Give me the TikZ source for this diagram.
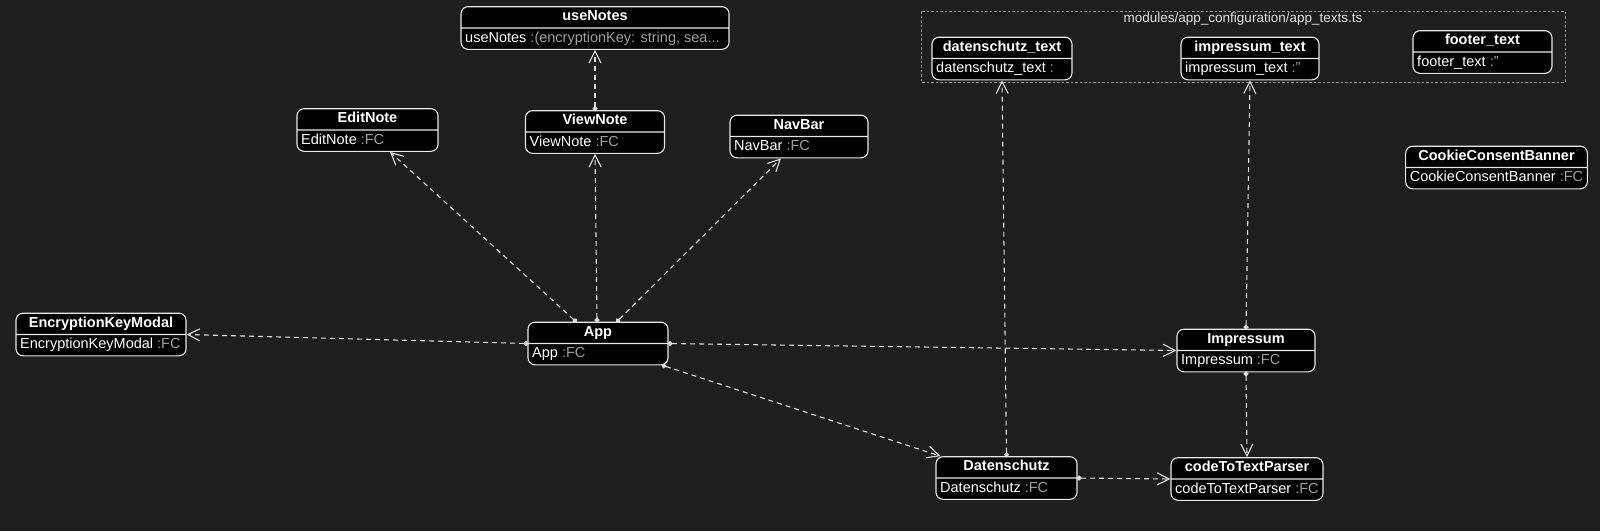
\documentclass[tikz,border=0pt]{standalone}
\usepackage{fontspec}
\setmainfont{Liberation Sans}
\usetikzlibrary{arrows.meta,shapes.multipart,calc}
\definecolor{bgc}{HTML}{1E1E1E}
\definecolor{edgec}{HTML}{DDDDDD}
\definecolor{boxline}{HTML}{E8E8E8}
\definecolor{fcgray}{HTML}{A0A0A0}
\definecolor{grpc}{HTML}{8C8C8C}
\newcommand\hdrtxt[1]{\textbf{#1}\strut}
\newcommand\bdytxt[2]{#1 \textcolor{fcgray}{#2}\strut}
\tikzset{
  cls/.style={rectangle split, rectangle split parts=2,
    rectangle split part align={center,left},
    draw=boxline, fill=black, rounded corners=7pt, line width=1.1pt,
    inner xsep=4.2pt, inner ysep=1.6pt, text=white,
    font=\fontsize{14.5}{17}\selectfont},
  dep/.style={draw=edgec, line width=1.1pt, dash pattern=on 5pt off 4pt,
    {Circle[length=5pt,sep=-1pt]}-{Straight Barb[length=12pt,width=12pt,line width=1.1pt]}},
  grpbox/.style={draw=grpc, line width=0.8pt, dash pattern=on 2.5pt off 2pt},
  grplabel/.style={text=white!88!black, font=\fontsize{13.5}{15}\selectfont}
}
\begin{document}
\begin{tikzpicture}[x=1pt,y=-1pt]
\fill[bgc] (0,0) rectangle (1600,531);
\useasboundingbox (0,0) rectangle (1600,531);

% group
\draw[grpbox] (921,11) rectangle (1565,82);
\node[grplabel] (grplbl) at (1243,19.5) {modules/app\_configuration/app\_texts.ts};

% classes
\node[cls, minimum width=268pt] (usenotes) at (595,28)
  {\hdrtxt{useNotes}\nodepart{two}\bdytxt{useNotes}{:(encryptionKey: string, sea...}};
\node[cls, minimum width=141pt] (editnote) at (367.5,130)
  {\hdrtxt{EditNote}\nodepart{two}\bdytxt{EditNote}{:FC}};
\node[cls, minimum width=139pt] (viewnote) at (595,132)
  {\hdrtxt{ViewNote}\nodepart{two}\bdytxt{ViewNote}{:FC}};
\node[cls, minimum width=138pt] (navbar) at (799,136.5)
  {\hdrtxt{NavBar}\nodepart{two}\bdytxt{NavBar}{:FC}};
\node[cls, minimum width=170pt] (ekm) at (101,334.5)
  {\hdrtxt{EncryptionKeyModal}\nodepart{two}\bdytxt{EncryptionKeyModal}{:FC}};
\node[cls, minimum width=140pt] (app) at (598,343.5)
  {\hdrtxt{App}\nodepart{two}\bdytxt{App}{:FC}};
\node[cls, minimum width=138pt] (impressum) at (1246,350.5)
  {\hdrtxt{Impressum}\nodepart{two}\bdytxt{Impressum}{:FC}};
\node[cls, minimum width=141pt] (datenschutz) at (1006.5,478)
  {\hdrtxt{Datenschutz}\nodepart{two}\bdytxt{Datenschutz}{:FC}};
\node[cls, minimum width=152pt] (parser) at (1247,479)
  {\hdrtxt{codeToTextParser}\nodepart{two}\bdytxt{codeToTextParser}{:FC}};
\node[cls, minimum width=181pt] (cookie) at (1496.5,167.5)
  {\hdrtxt{CookieConsentBanner}\nodepart{two}\bdytxt{CookieConsentBanner}{:FC}};
\node[cls, minimum width=140pt] (dstext) at (1002,58.5)
  {\hdrtxt{datenschutz\_text}\nodepart{two}\bdytxt{datenschutz\_text}{:}};
\node[cls, minimum width=138pt] (imptext) at (1250,58.5)
  {\hdrtxt{impressum\_text}\nodepart{two}\bdytxt{impressum\_text}{:"}};
\node[cls, minimum width=139pt] (foottext) at (1482.5,52)
  {\hdrtxt{footer\_text}\nodepart{two}\bdytxt{footer\_text}{:"}};

% connectors
\draw[dep] (app.text split west) -- (ekm.east);
\draw[dep] ($(app.north)+(-22,0)$) -- ($(editnote.south)+(22.5,0)$);
\draw[dep] ($(app.north)+(-1,0)$) -- (viewnote.south);
\draw[dep] ($(app.north)+(19,0)$) -- ($(navbar.south)+(-18,0)$);
\draw[dep] (viewnote.north) -- (usenotes.south);
\draw[dep] (app.text split east) -- (impressum.west);
\draw[dep] ($(app.south east)+(-6,0)$) -- ($(datenschutz.north west)+(5,0)$);
\draw[dep] (datenschutz.north) -- (dstext.south);
\draw[dep] (impressum.north) -- (imptext.south);
\draw[dep] (impressum.south) -- (parser.north);
\draw[dep] (datenschutz.east) -- (parser.west);
\end{tikzpicture}
\end{document}
